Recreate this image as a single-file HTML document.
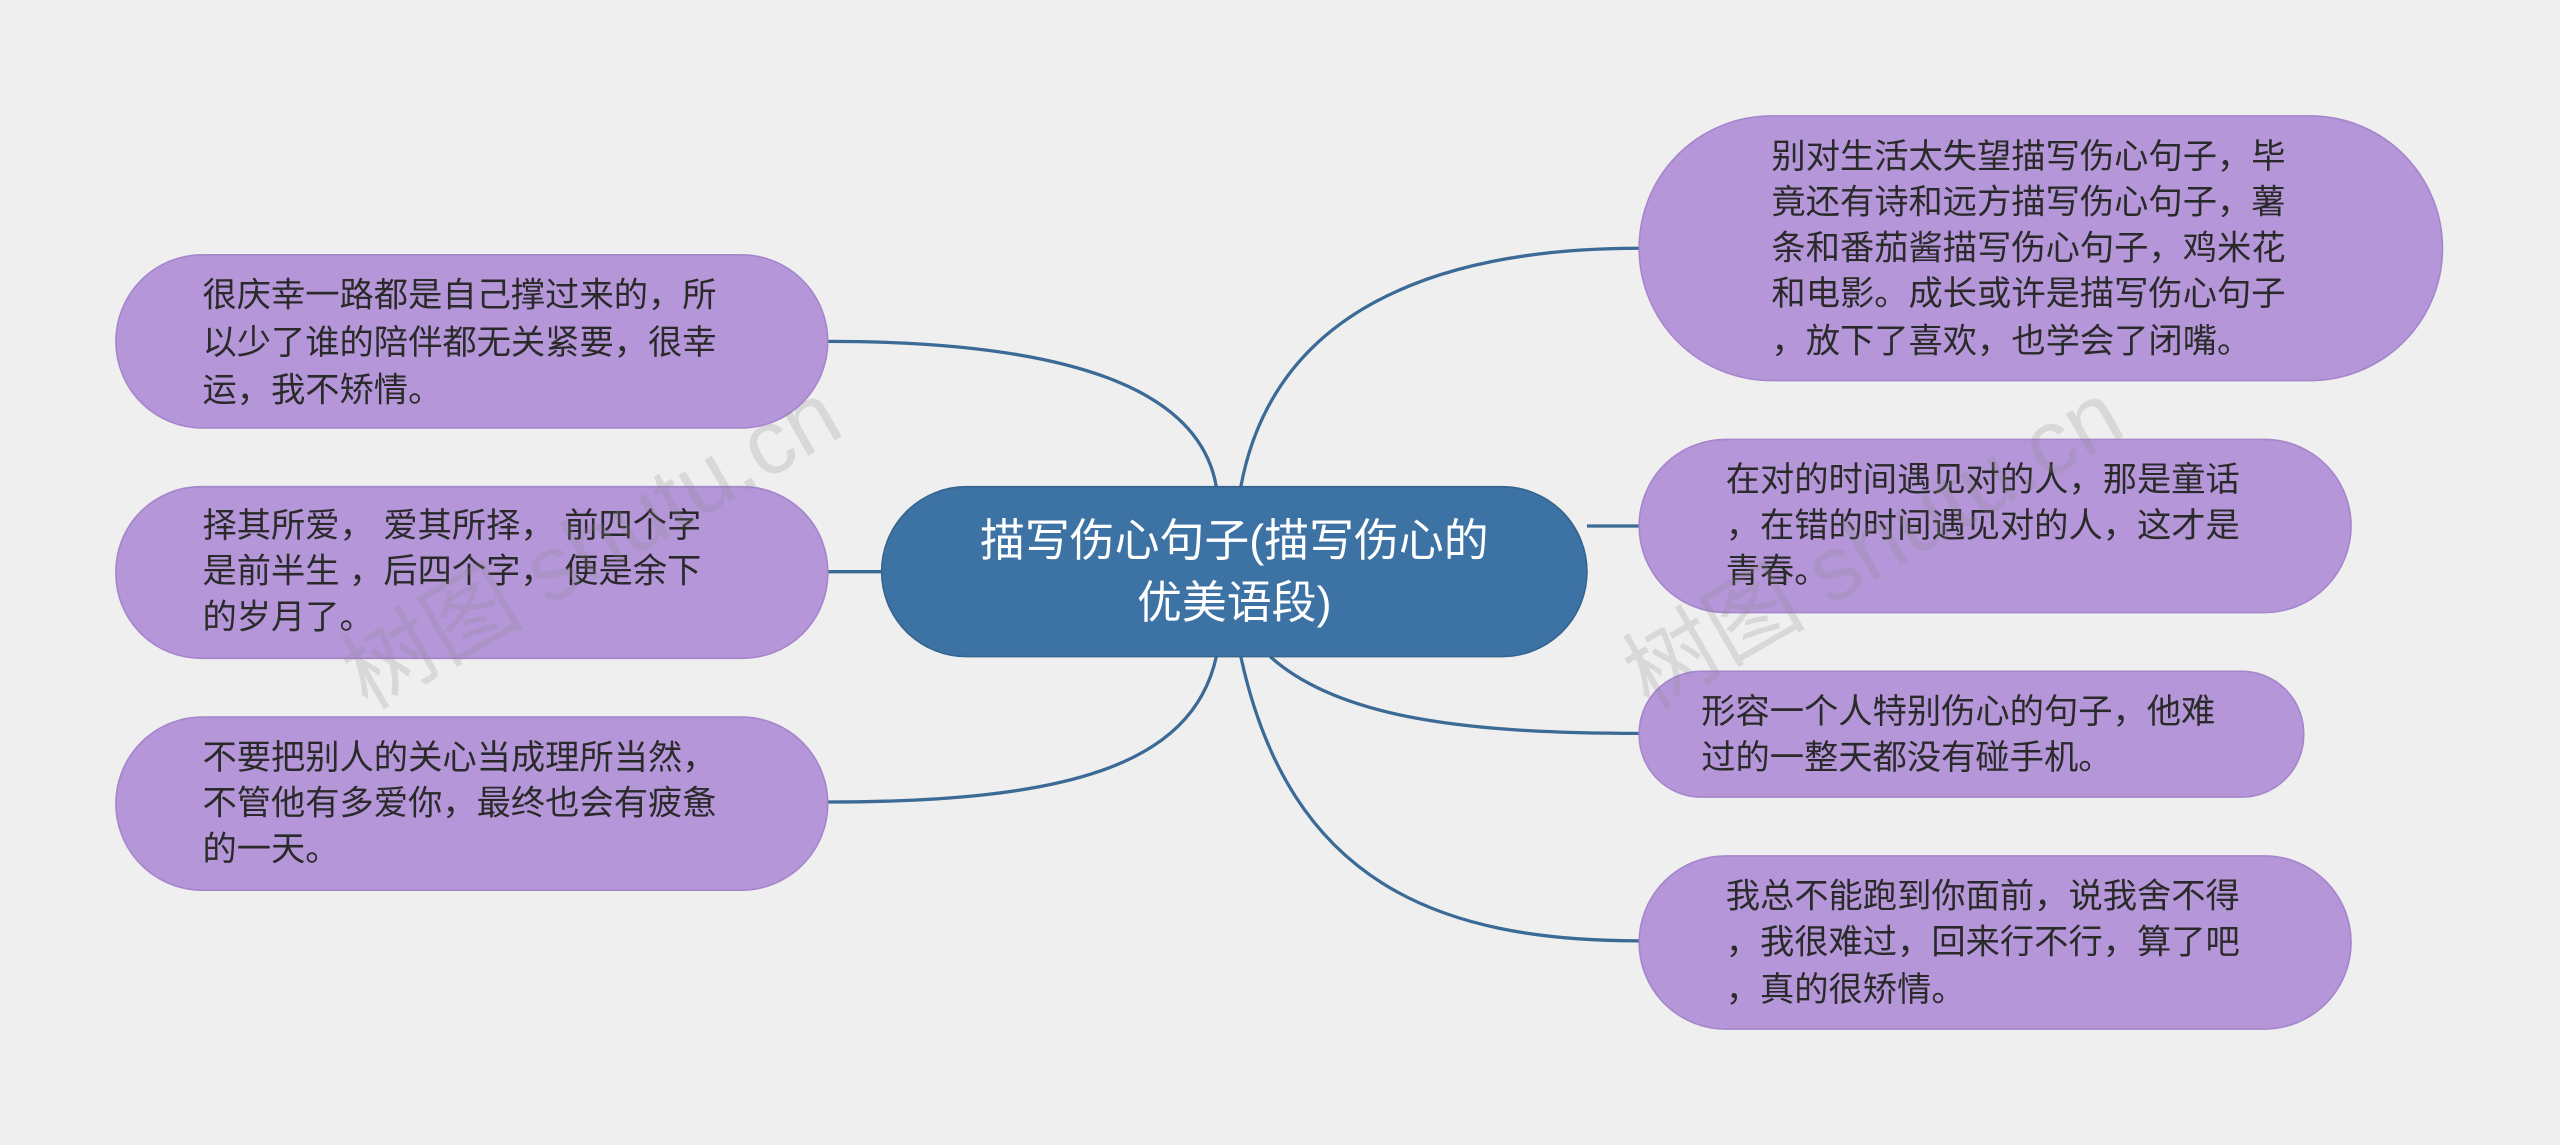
<!DOCTYPE html>
<html><head><meta charset="utf-8"><style>
html,body{margin:0;padding:0;background:#efefef;}
svg{display:block;}
text{font-family:"Liberation Sans","Noto Sans CJK SC",sans-serif;}
</style></head><body>
<svg width="2560" height="1145" viewBox="0 0 1568 701" preserveAspectRatio="none" xmlns="http://www.w3.org/2000/svg">
<rect width="1568" height="701" fill="#efefef"/>
<g fill="none" stroke="#3b6a96" stroke-width="2">
<path d="M745,298 C735,240 660,209 507,209"/>
<path d="M540,350 L507,350"/>
<path d="M745,402 C730,470 650,491 507,491"/>
<path d="M760,298 C780,190 880,152 1004,152"/>
<path d="M972,322 L1004,322"/>
<path d="M778,402 C820,440 900,449 1004,449"/>
<path d="M760,402 C790,540 880,576 1004,576"/>
</g>
<g fill="#b597d9" stroke="#a585cc" stroke-width="1">
<rect x="71" y="156" width="436" height="106" rx="53"/>
<rect x="71" y="298" width="436" height="105" rx="52"/>
<rect x="71" y="439" width="436" height="106" rx="53"/>
<rect x="1004" y="71" width="492" height="162" rx="81"/>
<rect x="1004" y="269" width="436" height="106" rx="53"/>
<rect x="1004" y="411" width="407" height="77" rx="38"/>
<rect x="1004" y="524" width="436" height="106" rx="53"/>
</g>
<rect x="540" y="298" width="432" height="104" rx="52" fill="#3d72a4" stroke="#35648f"/>
<g fill="#fff" font-size="27.5" text-anchor="middle" dominant-baseline="central">
<text x="756" y="331">描写伤心句子(描写伤心的</text>
<text x="756" y="369">优美语段)</text>
</g>
<g fill="#2a2a2a" font-size="21" dominant-baseline="central">
<text x="124" y="181">很庆幸一路都是自己撑过来的，所</text>
<text x="124" y="210">以少了谁的陪伴都无关紧要，很幸</text>
<text x="124" y="239">运，我不矫情。</text>
<text x="124" y="322">择其所爱， 爱其所择， 前四个字</text>
<text x="124" y="350">是前半生 ，后四个字， 便是余下</text>
<text x="124" y="378">的岁月了。</text>
<text x="124" y="464">不要把别人的关心当成理所当然，</text>
<text x="124" y="492">不管他有多爱你，最终也会有疲惫</text>
<text x="124" y="520">的一天。</text>
<text x="1085" y="96">别对生活太失望描写伤心句子，毕</text>
<text x="1085" y="124">竟还有诗和远方描写伤心句子，薯</text>
<text x="1085" y="152">条和番茄酱描写伤心句子，鸡米花</text>
<text x="1085" y="180">和电影。成长或许是描写伤心句子</text>
<text x="1085" y="209">，放下了喜欢，也学会了闭嘴。</text>
<text x="1057" y="294">在对的时间遇见对的人，那是童话</text>
<text x="1057" y="322">，在错的时间遇见对的人，这才是</text>
<text x="1057" y="350">青春。</text>
<text x="1042" y="436">形容一个人特别伤心的句子，他难</text>
<text x="1042" y="464">过的一整天都没有碰手机。</text>
<text x="1057" y="549">我总不能跑到你面前，说我舍不得</text>
<text x="1057" y="577">，我很难过，回来行不行，算了吧</text>
<text x="1057" y="606">，真的很矫情。</text>
</g>
<g fill="#888" fill-opacity="0.22" font-size="56">
<text transform="translate(225,435) rotate(-30)">树图 shutu.cn</text>
<text transform="translate(1010,435) rotate(-30)">树图 shutu.cn</text>
</g>
</svg>
</body></html>
